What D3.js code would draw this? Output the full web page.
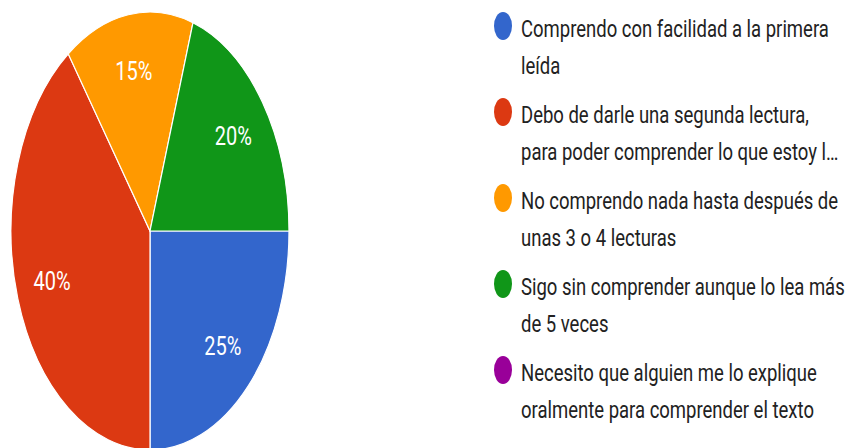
<!DOCTYPE html>
<html>
<head>
<meta charset="utf-8">
<script src="https://cdn.jsdelivr.net/npm/d3@7"></script>
<style>
  body { margin: 0; background: #fff; }
  svg { display: block; }
  text { font-family: Roboto, "Liberation Sans", sans-serif; }
</style>
</head>
<body>
<script>
// data
const categories = [
    ['Comprendo con facilidad a la primera', 'leída'],
    ['Debo de darle una segunda lectura,', 'para poder comprender lo que estoy l…'],
    ['No comprendo nada hasta después de', 'unas 3 o 4 lecturas'],
    ['Sigo sin comprender aunque lo lea más', 'de 5 veces'],
    ['Necesito que alguien me lo explique', 'oralmente para comprender el texto']
];
const values = [25, 40, 15, 20, 0];
const colors = ['#3366cc', '#dc3912', '#ff9900', '#109618', '#990099'];

const W = 856, H = 448;
const stretch = 1.575;   // picture is squashed horizontally
const cx = 150, cy = 231, radius = 139;

const svg = d3.select('body').append('svg')
    .attr('width', W)
    .attr('height', H);

const data = values.map((v, i) => ({ value: v, lines: categories[i], color: colors[i] }));

// pie, starting at 3 o'clock and going clockwise
const pie = d3.pie()
    .sort(null)
    .value(d => d.value)
    .startAngle(Math.PI / 2)
    .endAngle(Math.PI / 2 + 2 * Math.PI);

const arc = d3.arc().innerRadius(0).outerRadius(radius);
const labelArc = d3.arc().innerRadius(radius * 0.74).outerRadius(radius * 0.74);

const gPie = svg.append('g')
    .attr('transform', 'translate(' + cx + ',' + cy + ') scale(1,' + stretch + ')');

const arcs = pie(data).filter(d => d.data.value > 0);

gPie.selectAll('.slice')
    .data(arcs)
    .enter().append('path').attr('class', 'slice')
    .attr('d', arc)
    .style('fill', d => d.data.color)
    .style('stroke', '#fff')
    .style('stroke-width', 1.2)
    .style('vector-effect', 'non-scaling-stroke');

// percentage labels
svg.selectAll('.pct')
    .data(arcs)
    .enter().append('text').attr('class', 'pct')
    .attr('transform', d => {
        const c = labelArc.centroid(d);
        return 'translate(' + (cx + c[0]) + ',' + (cy + c[1] * stretch) + ') scale(1,1.27)';
    })
    .attr('text-anchor', 'middle')
    .attr('dy', '0.36em')
    .style('font-size', '20px')
    .style('fill', '#fff')
    .text(d => Math.round(d.data.value) + '%');

// legend
const legend = svg.append('g').attr('class', 'legend');
const legendY = d3.scaleLinear().domain([0, 1]).range([26, 112]);

const item = legend.selectAll('.item')
    .data(data)
    .enter().append('g').attr('class', 'item')
    .attr('transform', (d, i) => 'translate(0,' + legendY(i) + ')');

item.append('ellipse')
    .attr('cx', 503)
    .attr('cy', 0)
    .attr('rx', 9)
    .attr('ry', 14)
    .style('fill', d => d.color);

item.selectAll('text')
    .data(d => d.lines)
    .enter().append('text')
    .attr('transform', (t, j) => 'translate(521,' + (11 + j * 37) + ') scale(1,1.3)')
    .style('font-size', '18.5px')
    .style('fill', '#222')
    .text(t => t);
</script>
</body>
</html>
